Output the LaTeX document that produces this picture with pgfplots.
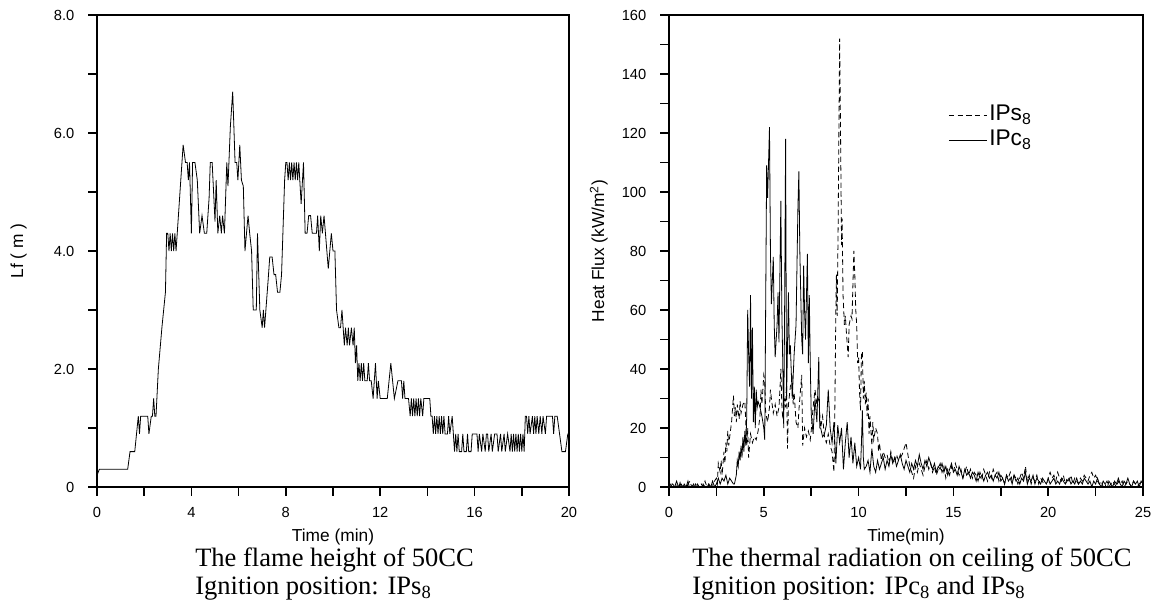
\documentclass[border=0pt]{standalone}
\usepackage{fontspec}
\setmainfont{Liberation Serif}
\newfontfamily\arial{Liberation Sans}
\usepackage{pgfplots}
\pgfplotsset{compat=1.18}
\begin{document}
\begin{tikzpicture}
\useasboundingbox (0,0) rectangle (865.5pt,456pt);
\pgfplotsset{common/.style={scale only axis, anchor=south west,
  axis line style={line width=1.3pt}, tick style={black,line width=1.3pt},
  major tick length=6.5pt, minor tick length=6.5pt, tick align=outside, tick pos=left,
  ticklabel style={font=\fontsize{11}{13}\selectfont\arial},
  xticklabel style={yshift=-5pt},
  yticklabel style={xshift=-7pt},
  /pgf/number format/assume math mode=true,
  label style={font=\fontsize{13}{15}\selectfont\arial}}}
\begin{axis}[common, at={(72.75pt,90.75pt)}, width=354pt, height=354pt,
  xmin=0, xmax=20, ymin=0, ymax=8,
  xtick={0,4,...,20}, minor xtick={2,6,10,14,18},
  ytick={0,2,4,6,8}, yticklabels={0,2.0,4.0,6.0,8.0}, minor ytick={1,3,5,7},
  xlabel={Time (min)}, ylabel={Lf ( m )},
  xlabel style={at={(axis description cs:0.5,-0.106)}, anchor=center},
  ylabel style={at={(axis description cs:-0.166,0.5)}, anchor=center}]
\addplot[black, line width=0.6pt] coordinates {
(0,0.2) (0.1,0.3) (1.3,0.3) (1.4,0.6) (1.6,0.6) (1.75,1.2) (1.8,0.9) (1.85,1.2) (2.15,1.2) (2.2,0.9) (2.3,1.2) (2.35,1.2) (2.4,1.5) (2.45,1.2) (2.5,1.2) (2.6,2.0) (2.75,2.7) (2.9,3.3) (2.95,4.3) (3.0,4.3) (3.05,4.0) (3.1,4.3) (3.15,4.0) (3.2,4.3) (3.25,4.0) (3.3,4.3) (3.35,4.0) (3.45,4.6) (3.55,5.2) (3.65,5.8) (3.75,5.5) (3.82,5.5) (3.87,5.2) (3.92,5.5) (4.0,4.3) (4.05,5.5) (4.15,5.5) (4.25,5.2) (4.35,4.3) (4.45,4.6) (4.55,4.3) (4.65,4.3) (4.75,4.9) (4.8,5.5) (4.88,5.5) (5.0,4.5) (5.05,5.2) (5.12,4.3) (5.2,4.6) (5.27,4.3) (5.32,4.6) (5.4,4.3) (5.5,5.5) (5.55,5.1) (5.65,6.1) (5.75,6.7) (5.85,5.5) (5.92,5.5) (5.97,5.2) (6.05,5.8) (6.12,5.2) (6.2,5.1) (6.27,4.0) (6.4,4.6) (6.47,4.3) (6.55,4.0) (6.62,3.0) (6.75,3.0) (6.8,4.3) (6.9,3.0) (7.0,2.7) (7.05,3.0) (7.1,2.7) (7.25,3.5) (7.32,3.9) (7.42,3.9) (7.5,3.6) (7.57,3.6) (7.65,3.3) (7.75,3.3) (7.82,3.6) (7.95,5.2) (8.0,5.5) (8.05,5.5) (8.1,5.2) (8.15,5.5) (8.2,5.2) (8.25,5.5) (8.3,5.2) (8.35,5.5) (8.4,5.2) (8.45,5.5) (8.5,5.2) (8.55,5.5) (8.65,4.8) (8.75,5.5) (8.82,4.3) (8.9,4.3) (8.97,4.6) (9.05,4.6) (9.12,4.3) (9.3,4.3) (9.35,4.6) (9.42,4.0) (9.48,4.6) (9.55,4.3) (9.62,4.6) (9.68,4.3) (9.8,3.7) (9.93,4.3) (10.0,4.0) (10.08,4.0) (10.15,3.0) (10.25,2.7) (10.32,2.7) (10.38,3.0) (10.48,2.4) (10.53,2.7) (10.6,2.4) (10.65,2.7) (10.7,2.4) (10.78,2.7) (10.85,2.4) (10.9,2.7) (10.95,2.1) (11.0,2.4) (11.05,1.8) (11.1,2.1) (11.15,1.8) (11.2,2.1) (11.25,1.8) (11.3,2.1) (11.35,1.8) (11.45,1.8) (11.5,2.1) (11.55,1.8) (11.62,1.8) (11.7,1.5) (11.8,2.1) (11.87,1.5) (11.92,1.8) (12.0,1.5) (12.3,1.5) (12.45,2.1) (12.6,1.5) (12.75,1.8) (12.9,1.8) (12.95,1.5) (13.0,1.8) (13.05,1.5) (13.2,1.5) (13.27,1.2) (13.32,1.5) (13.37,1.2) (13.42,1.5) (13.47,1.2) (13.52,1.5) (13.57,1.2) (13.62,1.5) (13.67,1.2) (13.72,1.5) (13.8,1.2) (13.85,1.5) (14.1,1.5) (14.15,1.2) (14.2,1.2) (14.25,0.9) (14.3,1.2) (14.35,0.9) (14.4,1.2) (14.45,0.9) (14.5,1.2) (14.55,0.9) (14.6,1.2) (14.65,0.9) (14.7,1.2) (14.75,0.9) (14.85,0.9) (14.9,1.2) (14.95,0.9) (15.05,1.2) (15.15,0.6) (15.2,0.9) (15.25,0.6) (15.3,0.9) (15.35,0.6) (15.45,0.6) (15.5,0.9) (15.55,0.6) (15.65,0.6) (15.7,0.9) (15.75,0.6) (15.85,0.6) (15.9,0.9) (16.1,0.9) (16.15,0.6) (16.2,0.9) (16.3,0.6) (16.35,0.9) (16.45,0.6) (16.5,0.9) (16.55,0.9) (16.6,0.6) (16.7,0.9) (16.75,0.6) (16.85,0.9) (16.95,0.9) (17.0,0.6) (17.1,0.9) (17.15,0.6) (17.25,0.9) (17.3,0.6) (17.4,0.9) (17.5,0.6) (17.55,0.9) (17.6,0.6) (17.65,0.9) (17.7,0.6) (17.75,0.9) (17.8,0.6) (17.85,0.9) (17.9,0.6) (17.95,0.9) (18.0,0.6) (18.05,0.9) (18.1,0.6) (18.15,1.2) (18.2,1.2) (18.25,0.9) (18.3,1.2) (18.35,0.9) (18.45,1.2) (18.5,0.9) (18.55,1.2) (18.6,0.9) (18.65,1.2) (18.72,0.9) (18.78,1.2) (18.85,0.9) (18.9,1.2) (19.0,0.9) (19.05,1.2) (19.3,1.2) (19.35,0.9) (19.4,1.2) (19.5,1.2) (19.6,0.9) (19.7,0.6) (19.85,0.6) (19.95,0.9) (20,0.9)
};
\end{axis}
\begin{axis}[common, at={(501.75pt,90.75pt)}, width=355.5pt, height=354pt,
  xmin=0, xmax=25, ymin=0, ymax=160,
  xtick={0,5,...,25}, minor xtick={2.5,7.5,...,22.5},
  ytick={0,20,...,160}, minor ytick={10,30,...,150},
  xlabel={Time(min)}, ylabel={Heat Flux (kW/m\textsuperscript{2})},
  xlabel style={at={(axis description cs:0.5,-0.106)}, anchor=center},
  ylabel style={at={(axis description cs:-0.148,0.5)}, anchor=center},
  legend style={at={(0.589,0.815)}, anchor=north west, draw=none, fill=none,
    font=\fontsize{17}{18}\selectfont\arial, inner sep=0pt, row sep=0pt,
    nodes={inner sep=1.5pt, text height=12pt, text depth=4pt}},
  legend cell align=left,
  legend image code/.code={\draw[#1] (0pt,0pt) -- (28.5pt,0pt);}]
\addplot[black, line width=0.6pt, dash pattern=on 4pt off 2.5pt] coordinates {
(0,0) (0.1,-1) (0.2,1) (0.3,0) (0.4,1) (0.5,-1) (0.6,2) (0.7,0) (0.8,1) (0.9,-1) (1.0,1) (1.1,2) (1.2,0) (1.3,-1) (1.4,1) (1.5,0) (1.6,-1) (1.7,1) (1.8,0) (1.9,2) (2.0,0) (2.1,1) (2.2,-1) (2.3,1) (2.4,2)
(2.5,3) (2.55,1) (2.6,8) (2.7,5) (2.75,9) (2.8,4) (2.9,12) (2.95,8) (3.0,15) (3.05,12) (3.1,19) (3.15,14) (3.2,17) (3.3,22) (3.4,31) (3.45,24) (3.5,27) (3.55,22) (3.6,28) (3.7,23) (3.75,29) (3.8,25) (3.9,28) (4.0,29) (4.05,22) (4.1,14) (4.15,20) (4.2,10) (4.3,18) (4.4,15) (4.5,17) (4.6,16) (4.7,19) (4.8,24) (4.85,33) (4.9,28) (5.0,38) (5.05,36) (5.1,25) (5.2,22) (5.3,27) (5.35,33) (5.4,30) (5.5,25) (5.6,28) (5.7,24) (5.8,27) (5.85,33) (5.9,40) (5.95,28) (6.0,23) (6.1,30) (6.15,27) (6.2,36) (6.25,13) (6.3,28) (6.4,34) (6.5,37) (6.55,28) (6.6,32) (6.7,22) (6.8,20) (6.85,26) (6.9,30) (7.0,38) (7.05,14) (7.15,20) (7.25,17) (7.35,19) (7.45,16) (7.5,19) (7.6,27) (7.7,33) (7.8,28) (7.9,30) (8.0,20) (8.1,24) (8.2,17) (8.3,15) (8.4,18) (8.5,14) (8.6,12) (8.7,5) (8.75,28) (8.8,60) (8.83,72) (8.87,58) (8.92,88) (8.96,120) (9.0,152) (9.05,118) (9.1,82) (9.13,91) (9.18,65) (9.25,55) (9.3,58) (9.35,53) (9.45,44) (9.5,55) (9.6,58) (9.65,57) (9.75,80) (9.8,72) (9.85,60) (9.9,55) (9.95,42) (10.0,44) (10.05,32) (10.1,26) (10.15,45) (10.2,46) (10.25,30) (10.3,36) (10.35,28) (10.4,32) (10.45,24) (10.5,30) (10.55,18) (10.6,24) (10.7,14) (10.75,22) (10.8,16) (10.9,20) (11.0,18) (11.05,12) (11.1,15) (11.2,9) (11.3,12) (11.4,10) (11.5,11) (11.6,8) (11.7,12) (11.8,9) (11.9,8) (12.0,11) (12.1,9) (12.2,10) (12.3,11) (12.4,13) (12.5,15) (12.6,11) (12.7,7) (12.8,5) (12.9,3) (13.0,7)
(13.1,5) (13.2,8) (13.3,6) (13.4,4) (13.5,7) (13.6,9) (13.7,6) (13.8,8) (13.9,5) (14.0,7) (14.1,4) (14.2,6) (14.3,8) (14.4,5) (14.5,7) (14.6,3) (14.7,6) (14.8,4) (14.9,7) (15.0,5) (15.1,8) (15.2,6) (15.3,4) (15.4,6) (15.5,3) (15.6,5) (15.7,7) (15.8,4) (15.9,6) (16.0,3) (16.1,5) (16.2,4) (16.3,2) (16.4,5) (16.5,3) (16.6,6) (16.7,4) (16.8,2) (16.9,5) (17.0,3) (17.1,6) (17.2,4) (17.3,5) (17.4,2) (17.5,4) (17.6,3) (17.7,1) (17.8,4) (17.9,3) (18.0,5) (18.1,2) (18.2,4) (18.3,3) (18.4,1) (18.5,3) (18.6,5) (18.7,3) (18.8,7) (18.9,2) (19.0,4) (19.1,1) (19.2,3) (19.3,2) (19.4,4) (19.5,1) (19.6,3) (19.7,2) (19.8,0) (19.9,-2) (20.0,3) (20.1,5) (20.2,3) (20.3,4) (20.4,2) (20.5,5) (20.6,3) (20.7,2) (20.8,4) (20.9,1) (21.0,3) (21.1,2) (21.2,4) (21.3,1) (21.4,3) (21.5,2) (21.6,1) (21.7,3) (21.8,2) (21.9,4) (22.0,3) (22.1,2) (22.2,4) (22.3,5) (22.4,3) (22.5,4) (22.6,2) (22.7,1) (22.8,2) (22.9,0) (23.0,1) (23.1,2) (23.2,0) (23.3,1) (23.4,2) (23.5,1) (23.6,0) (23.7,2) (23.8,1) (23.9,2) (24.0,0) (24.1,1) (24.2,2) (24.3,1) (24.4,0) (24.5,2) (24.6,1) (24.7,0) (24.8,1) (24.9,2) (25.0,1)
};
\addlegendentry{IPs\textsubscript{8}}
\addplot[black, line width=0.6pt] coordinates {
(0,0) (0.1,1) (0.2,-1) (0.3,0) (0.4,2) (0.5,0) (0.6,1) (0.7,-1) (0.8,1) (0.9,0) (1.0,2) (1.1,-1) (1.2,0) (1.3,1) (1.4,-1) (1.5,1) (1.6,0) (1.7,-1) (1.8,1) (1.9,0) (2.0,-1) (2.1,1) (2.2,0) (2.3,2) (2.4,0) (2.5,1) (2.6,3) (2.7,1) (2.8,3) (2.9,2) (3.0,4) (3.1,1) (3.2,3) (3.3,2) (3.4,1) (3.45,1) (3.55,4) (3.6,9) (3.65,7) (3.7,12) (3.75,9) (3.8,14) (3.85,10) (3.9,17) (3.95,12) (4.0,19) (4.05,14) (4.1,24) (4.15,60) (4.2,45) (4.25,34) (4.3,65) (4.35,30) (4.4,54) (4.45,22) (4.5,34) (4.55,20) (4.6,33) (4.65,27) (4.7,29) (4.8,27) (4.9,24) (5.0,20) (5.05,16) (5.15,109) (5.2,98) (5.25,110) (5.3,122) (5.35,80) (5.4,62) (5.45,70) (5.5,78) (5.55,55) (5.6,44) (5.7,55) (5.75,66) (5.8,49) (5.9,97) (5.95,60) (6.0,42) (6.05,20) (6.1,62) (6.15,118) (6.2,30) (6.3,66) (6.35,45) (6.4,48) (6.5,30) (6.6,45) (6.7,55) (6.8,95) (6.85,107) (6.9,80) (7.0,50) (7.05,45) (7.1,75) (7.15,60) (7.2,50) (7.3,79) (7.35,42) (7.4,65) (7.45,42) (7.5,25) (7.6,18) (7.7,30) (7.8,22) (7.9,44) (7.95,20) (8.0,20) (8.1,17) (8.2,18) (8.3,21) (8.4,33) (8.5,20) (8.6,15) (8.7,22) (8.8,8) (8.9,21) (9.0,15) (9.1,20) (9.2,6) (9.3,15) (9.4,22) (9.5,10) (9.6,17) (9.7,8) (9.8,15) (9.9,7) (10.0,10) (10.1,6) (10.15,15) (10.2,26) (10.25,10) (10.3,6) (10.4,7) (10.5,9) (10.6,5) (10.7,13) (10.8,7) (10.9,5) (11.0,9) (11.1,6) (11.2,8) (11.3,10) (11.4,6) (11.5,9) (11.6,7) (11.7,11) (11.8,8) (11.9,10) (12.0,7) (12.1,9) (12.2,11) (12.3,8) (12.4,6) (12.5,9) (12.6,7) (12.7,5) (12.8,8) (12.9,6) (13.0,9) (13.1,7) (13.2,11) (13.3,8) (13.4,6) (13.5,9) (13.6,7) (13.7,10) (13.8,8) (13.9,6) (14.0,8)
(14.1,5) (14.2,7) (14.3,6) (14.4,8) (14.5,5) (14.6,7) (14.7,4) (14.8,6) (14.9,8) (15.0,5) (15.1,6) (15.2,4) (15.3,7) (15.4,5) (15.5,3) (15.6,6) (15.7,4) (15.8,5) (15.9,3) (16.0,5) (16.1,4) (16.2,2) (16.3,5) (16.4,3) (16.5,4) (16.6,2) (16.7,4) (16.8,5) (16.9,3) (17.0,4) (17.1,2) (17.2,4) (17.3,3) (17.4,5) (17.5,2) (17.6,3) (17.7,1) (17.8,4) (17.9,2) (18.0,3) (18.1,1) (18.2,4) (18.3,2) (18.4,3) (18.5,1) (18.6,3) (18.7,2) (18.8,5) (18.9,1) (19.0,3) (19.1,2) (19.2,4) (19.3,1) (19.4,3) (19.5,2) (19.6,1) (19.7,3) (19.8,2) (19.9,1) (20.0,3) (20.1,1) (20.2,2) (20.3,3) (20.4,1) (20.5,2) (20.6,1) (20.7,3) (20.8,2) (20.9,1) (21.0,2) (21.1,3) (21.2,1) (21.3,2) (21.4,1) (21.5,3) (21.6,1) (21.7,2) (21.8,1) (21.9,3) (22.0,2) (22.1,1) (22.2,2) (22.3,0) (22.4,2) (22.5,1) (22.6,3) (22.7,1) (22.8,0) (22.9,2) (23.0,1) (23.1,-1) (23.2,2) (23.3,1) (23.4,0) (23.5,2) (23.6,1) (23.7,3) (23.8,1) (23.9,0) (24.0,2) (24.1,1) (24.2,3) (24.3,1) (24.4,0) (24.5,2) (24.6,1) (24.7,2) (24.8,0) (24.9,2) (25.0,1)
};
\addlegendentry{IPc\textsubscript{8}}
\end{axis}
\node[anchor=base west, inner sep=0pt, font=\fontsize{19.9}{22}\selectfont] at (146.25pt,31.5pt) {The flame height of 50CC};
\node[anchor=base west, inner sep=0pt, font=\fontsize{19.9}{22}\selectfont] at (146.25pt,10.5pt) {Ignition position: IPs\textsubscript{8}};
\node[anchor=base west, inner sep=0pt, font=\fontsize{19.9}{22}\selectfont] at (519pt,31.5pt) {The thermal radiation on ceiling of 50CC};
\node[anchor=base west, inner sep=0pt, font=\fontsize{19.9}{22}\selectfont] at (519pt,10.5pt) {Ignition position: IPc\textsubscript{8} and IPs\textsubscript{8}};
\end{tikzpicture}
\end{document}
